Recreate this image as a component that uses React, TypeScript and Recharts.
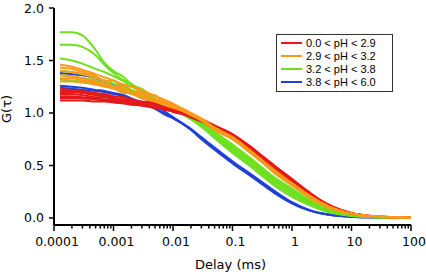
import { LineChart, Line, XAxis, YAxis } from 'recharts';

// delay times (ms) at which the correlation curves were read
const TAU = [
  0.000126, 0.0002, 0.0003, 0.0005, 0.0007, 0.001, 0.0015, 0.002, 0.003, 0.005, 0.007, 0.01,
  0.02, 0.03, 0.05, 0.1, 0.2, 0.3, 0.5, 1, 2, 3, 5, 10, 20, 50, 100,
];

// 0.0 < pH < 2.9
const redCurves = [
  [1.23, 1.22, 1.21, 1.19, 1.18, 1.16, 1.15, 1.12, 1.11, 1.09, 1.06, 1.04, 0.98, 0.94, 0.88, 0.8, 0.68, 0.6, 0.5, 0.37, 0.24, 0.17, 0.1, 0.046, 0.02, 0.008, 0.004],
  [1.21, 1.21, 1.2, 1.18, 1.17, 1.14, 1.13, 1.13, 1.09, 1.07, 1.06, 1.03, 0.98, 0.93, 0.88, 0.79, 0.68, 0.6, 0.5, 0.37, 0.24, 0.17, 0.105, 0.047, 0.021, 0.008, 0.004],
  [1.2, 1.2, 1.19, 1.17, 1.16, 1.15, 1.12, 1.12, 1.1, 1.08, 1.04, 1.03, 0.97, 0.93, 0.87, 0.79, 0.67, 0.59, 0.49, 0.36, 0.23, 0.165, 0.1, 0.045, 0.02, 0.008, 0.004],
  [1.18, 1.18, 1.17, 1.15, 1.15, 1.13, 1.12, 1.1, 1.09, 1.06, 1.05, 1.02, 0.97, 0.93, 0.87, 0.78, 0.66, 0.58, 0.48, 0.35, 0.22, 0.16, 0.095, 0.043, 0.019, 0.007, 0.003],
  [1.16, 1.16, 1.15, 1.14, 1.13, 1.12, 1.11, 1.1, 1.08, 1.07, 1.04, 1.02, 0.97, 0.94, 0.88, 0.79, 0.67, 0.59, 0.49, 0.36, 0.23, 0.16, 0.1, 0.044, 0.02, 0.008, 0.004],
  [1.15, 1.15, 1.14, 1.13, 1.12, 1.12, 1.1, 1.09, 1.08, 1.05, 1.04, 1.02, 0.96, 0.92, 0.86, 0.78, 0.66, 0.58, 0.48, 0.35, 0.22, 0.16, 0.095, 0.043, 0.019, 0.007, 0.003],
  [1.14, 1.14, 1.14, 1.13, 1.12, 1.11, 1.1, 1.08, 1.08, 1.06, 1.03, 1.02, 0.96, 0.92, 0.86, 0.77, 0.65, 0.57, 0.47, 0.35, 0.22, 0.155, 0.095, 0.042, 0.018, 0.007, 0.003],
  [1.12, 1.12, 1.12, 1.11, 1.11, 1.1, 1.09, 1.08, 1.07, 1.05, 1.04, 1.01, 0.97, 0.93, 0.87, 0.78, 0.66, 0.58, 0.48, 0.36, 0.23, 0.16, 0.1, 0.045, 0.02, 0.008, 0.004],
];

// 2.9 < pH < 3.2
const orangeCurves = [
  [1.46, 1.44, 1.41, 1.37, 1.34, 1.31, 1.27, 1.25, 1.22, 1.16, 1.13, 1.09, 1.0, 0.95, 0.86, 0.77, 0.64, 0.56, 0.45, 0.33, 0.21, 0.15, 0.09, 0.042, 0.019, 0.007, 0.003],
  [1.43, 1.42, 1.39, 1.35, 1.3, 1.31, 1.24, 1.26, 1.18, 1.17, 1.1, 1.08, 0.99, 0.94, 0.85, 0.76, 0.63, 0.55, 0.44, 0.32, 0.2, 0.14, 0.085, 0.04, 0.018, 0.007, 0.003],
  [1.4, 1.39, 1.37, 1.33, 1.31, 1.25, 1.27, 1.2, 1.19, 1.13, 1.12, 1.07, 0.99, 0.94, 0.84, 0.75, 0.62, 0.54, 0.43, 0.31, 0.19, 0.135, 0.08, 0.038, 0.017, 0.006, 0.003],
  [1.36, 1.35, 1.33, 1.3, 1.27, 1.25, 1.22, 1.18, 1.17, 1.12, 1.09, 1.07, 0.98, 0.93, 0.84, 0.75, 0.62, 0.54, 0.44, 0.31, 0.2, 0.14, 0.085, 0.04, 0.018, 0.007, 0.003],
  [1.33, 1.33, 1.31, 1.29, 1.26, 1.23, 1.2, 1.19, 1.14, 1.13, 1.08, 1.06, 0.98, 0.93, 0.85, 0.76, 0.63, 0.55, 0.45, 0.32, 0.2, 0.14, 0.085, 0.04, 0.018, 0.007, 0.003],
  [1.3, 1.3, 1.29, 1.27, 1.25, 1.24, 1.19, 1.2, 1.14, 1.11, 1.08, 1.05, 0.99, 0.94, 0.86, 0.77, 0.64, 0.56, 0.46, 0.33, 0.21, 0.15, 0.09, 0.042, 0.019, 0.007, 0.003],
];

// 3.2 < pH < 3.8
const greenCurves = [
  [1.77, 1.77, 1.74, 1.6, 1.48, 1.4, 1.34, 1.27, 1.23, 1.13, 1.1, 1.05, 0.98, 0.92, 0.82, 0.7, 0.57, 0.49, 0.39, 0.28, 0.17, 0.115, 0.065, 0.03, 0.014, 0.006, 0.003],
  [1.65, 1.65, 1.63, 1.55, 1.46, 1.38, 1.31, 1.28, 1.2, 1.14, 1.08, 1.06, 0.97, 0.91, 0.8, 0.68, 0.55, 0.47, 0.37, 0.26, 0.16, 0.105, 0.06, 0.028, 0.013, 0.005, 0.002],
  [1.52, 1.5, 1.47, 1.42, 1.39, 1.35, 1.3, 1.25, 1.21, 1.12, 1.09, 1.04, 0.96, 0.89, 0.78, 0.66, 0.53, 0.45, 0.35, 0.24, 0.145, 0.095, 0.055, 0.025, 0.012, 0.005, 0.002],
  [1.4, 1.39, 1.37, 1.34, 1.31, 1.28, 1.25, 1.22, 1.18, 1.12, 1.08, 1.04, 0.95, 0.88, 0.77, 0.64, 0.51, 0.43, 0.33, 0.22, 0.13, 0.085, 0.05, 0.022, 0.01, 0.004, 0.002],
  [1.36, 1.35, 1.33, 1.31, 1.28, 1.26, 1.23, 1.2, 1.16, 1.11, 1.07, 1.03, 0.96, 0.9, 0.79, 0.67, 0.54, 0.46, 0.36, 0.25, 0.15, 0.1, 0.058, 0.026, 0.012, 0.005, 0.002],
  [1.32, 1.31, 1.3, 1.28, 1.26, 1.24, 1.21, 1.18, 1.15, 1.1, 1.06, 1.03, 0.94, 0.87, 0.76, 0.62, 0.49, 0.41, 0.31, 0.2, 0.12, 0.08, 0.045, 0.02, 0.009, 0.004, 0.002],
];

// 3.8 < pH < 6.0
const blueCurves = [
  [1.38, 1.37, 1.36, 1.33, 1.3, 1.27, 1.23, 1.21, 1.15, 1.08, 1.02, 0.96, 0.85, 0.77, 0.67, 0.54, 0.42, 0.35, 0.26, 0.15, 0.075, 0.048, 0.027, 0.013, 0.006, 0.003, 0.002],
  [1.26, 1.25, 1.24, 1.22, 1.21, 1.19, 1.17, 1.14, 1.1, 1.05, 1.0, 0.955, 0.84, 0.76, 0.66, 0.53, 0.41, 0.34, 0.25, 0.14, 0.07, 0.045, 0.025, 0.012, 0.006, 0.003, 0.002],
  [1.24, 1.23, 1.22, 1.21, 1.2, 1.18, 1.16, 1.13, 1.09, 1.04, 0.99, 0.95, 0.84, 0.75, 0.65, 0.52, 0.4, 0.33, 0.24, 0.14, 0.07, 0.044, 0.024, 0.012, 0.006, 0.003, 0.002],
];

const LEGEND_LABELS = ['0.0 < pH < 2.9', '2.9 < pH < 3.2', '3.2 < pH < 3.8', '3.8 < pH < 6.0'];
const COLORS = ['#e5191b', '#fb9a1a', '#6fe01e', '#2040d8'];

const X_MAJOR = [0.0001, 0.001, 0.01, 0.1, 1, 10, 100];
const X_LABELS = ['0.0001', '0.001', '0.01', '0.1', '1', '10', '100'];
const Y_TICKS = [0, 0.5, 1, 1.5, 2];
const Y_LABELS = ['0.0', '0.5', '1.0', '1.5', '2.0'];

const AXIS_FONT = '"DejaVu Sans", sans-serif';

// minor ticks 2..9 in each decade
const X_TICKS: number[] = [];
X_MAJOR.forEach((d, i) => {
  X_TICKS.push(d);
  if (i < X_MAJOR.length - 1) for (let k = 2; k <= 9; k++) X_TICKS.push(+(d * k).toPrecision(3));
});

// draw order: blue at the bottom, orange on top
const groups = [
  { id: 'b', curves: blueCurves, color: COLORS[3] },
  { id: 'g', curves: greenCurves, color: COLORS[2] },
  { id: 'r', curves: redCurves, color: COLORS[0] },
  { id: 'o', curves: orangeCurves, color: COLORS[1] },
];

const series = groups.flatMap((g) =>
  g.curves.map((values, j) => ({ key: `${g.id}${j}`, values, color: g.color }))
);

const data = TAU.map((tau, i) => {
  const row: Record<string, number> = { tau };
  series.forEach((s) => (row[s.key] = s.values[i]));
  return row;
});

const XTick = (props: any) => {
  const { x, y, payload } = props;
  const idx = X_MAJOR.findIndex((t) => Math.abs(t - payload.value) / t < 1e-6);
  const major = idx >= 0;
  return (
    <g>
      <line x1={x} x2={x} y1={y} y2={y + (major ? 6 : 3.5)} stroke="#000" strokeWidth={1.5} />
      {major && (
        <text x={x + 3} y={y + 21} textAnchor="middle" fontSize={12.5} fontFamily={AXIS_FONT} fill="#000">
          {X_LABELS[idx]}
        </text>
      )}
    </g>
  );
};

const YTick = (props: any) => {
  const { x, y, payload } = props;
  const idx = Y_TICKS.indexOf(payload.value);
  return (
    <g>
      <line x1={x - 5} x2={x} y1={y} y2={y} stroke="#000" strokeWidth={1.5} />
      <text x={x - 10} y={y + 4.5} textAnchor="end" fontSize={12.5} fontFamily={AXIS_FONT} fill="#000">
        {Y_LABELS[idx]}
      </text>
    </g>
  );
};

const App = () => {
  return (
    <div style={{ position: 'absolute', left: 0, top: 0, width: 426, height: 274, background: '#fff' }}>
      <LineChart width={426} height={274} data={data} margin={{ top: 8, right: 15, bottom: 0, left: 0 }}>
        <XAxis
          dataKey="tau"
          type="number"
          scale="log"
          domain={[0.0001, 100]}
          allowDataOverflow
          ticks={X_TICKS}
          interval={0}
          tick={<XTick />}
          tickLine={false}
          tickSize={0}
          tickMargin={0}
          height={49}
          axisLine={{ stroke: '#000', strokeWidth: 2 }}
          label={(p: any) => (
            <text
              x={p.viewBox.x + p.viewBox.width / 2 - 2}
              y={p.viewBox.y + 44}
              textAnchor="middle"
              fontSize={13}
              fontFamily={AXIS_FONT}
              fill="#000"
            >
              Delay (ms)
            </text>
          )}
        />
        <YAxis
          type="number"
          domain={[-0.0667, 2]}
          allowDataOverflow
          ticks={Y_TICKS}
          interval={0}
          tick={<YTick />}
          tickLine={false}
          tickSize={0}
          tickMargin={0}
          width={54}
          axisLine={{ stroke: '#000', strokeWidth: 2 }}
          label={() => (
            <text
              x={11}
              y={109}
              transform="rotate(-90 11 109)"
              textAnchor="middle"
              fontSize={13}
              fontFamily={AXIS_FONT}
              fill="#000"
            >
              G(τ)
            </text>
          )}
        />
        {series.map((s) => (
          <Line
            key={s.key}
            dataKey={s.key}
            type="monotone"
            stroke={s.color}
            strokeWidth={2}
            dot={false}
            activeDot={false}
            isAnimationActive={false}
          />
        ))}
      </LineChart>
      <div
        style={{
          position: 'absolute',
          left: 276,
          top: 34,
          width: 117,
          height: 58,
          boxSizing: 'border-box',
          border: '1px solid #333',
          background: '#fff',
          paddingTop: 1.5,
          fontFamily: '"Liberation Sans", Arial, sans-serif',
          fontSize: 11,
          color: '#000',
        }}
      >
        {LEGEND_LABELS.map((label, i) => (
          <div key={label} style={{ display: 'flex', alignItems: 'center', height: 13 }}>
            <div style={{ width: 21, height: 2, background: COLORS[i], marginLeft: 4, marginRight: 4 }} />
            <span>{label}</span>
          </div>
        ))}
      </div>
    </div>
  );
};

export default App;
